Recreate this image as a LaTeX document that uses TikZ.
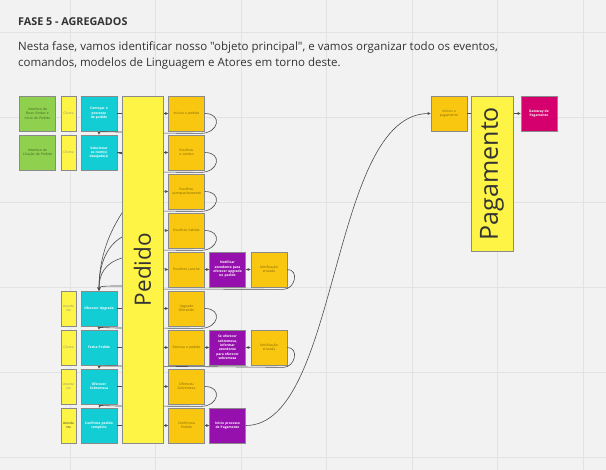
\documentclass[tikz,border=0pt]{standalone}
\usepackage{fontspec}
\setmainfont{Open Sans}[Ligatures=TeXOff]
\usetikzlibrary{arrows.meta,calc}
\definecolor{board}{HTML}{F2F2F2}
\definecolor{gridline}{HTML}{E2E2E2}
\definecolor{evtfill}{HTML}{FAC710}
\definecolor{cmdfill}{HTML}{12CDD4}
\definecolor{polfill}{HTML}{9510AC}
\definecolor{uifill}{HTML}{8FD14F}
\definecolor{actfill}{HTML}{FEF445}
\definecolor{extfill}{HTML}{D5006D}
\definecolor{edge}{HTML}{8A8A8A}
\definecolor{wire}{HTML}{4D4D4D}
\definecolor{ink}{HTML}{333333}
\tikzset{
  sticky/.style={draw=edge, line width=0.7pt, minimum width=36pt, minimum height=35pt, inner sep=0pt, text width=29pt, align=center, font={\fontsize{3.4}{4.3}\selectfont\hyphenpenalty10000}},
  ui/.style={sticky, fill=uifill, text=black!55!uifill, text width=31pt},
  actor/.style={sticky, fill=actfill, minimum width=15pt, text width=14pt, text=black!45, font={\fontsize{3.2}{4.1}\selectfont\hyphenpenalty10000}},
  cmd/.style={sticky, fill=cmdfill, text=white, text width=31pt, font={\fontsize{3.3}{4.3}\selectfont\bfseries\hyphenpenalty10000}},
  evt/.style={sticky, fill=evtfill, text=black!50!evtfill},
  pol/.style={sticky, fill=polfill, text=white, text width=31pt, font={\fontsize{3.3}{4.3}\selectfont\bfseries\hyphenpenalty10000}},
  ext/.style={sticky, fill=extfill, text=white, text width=30pt, font={\fontsize{3.3}{4.3}\selectfont\bfseries\hyphenpenalty10000}},
  agg/.style={draw=edge, line width=0.7pt, fill=actfill, minimum width=41pt, inner sep=0pt, text=ink},
  link/.style={wire, line width=0.6pt, -{Stealth[length=3.2pt,width=3pt]}},
}
\begin{document}
\begin{tikzpicture}[x=1pt,y=-1pt]
\useasboundingbox (0,0) rectangle (606,470);
\fill[board] (0,0) rectangle (606,470);
\foreach \gx in {70,155.5,241,326.5,412,497.5,583}
  \draw[gridline, line width=1pt] (\gx,0) -- (\gx,470);
\foreach \gy in {33,118,203,288,373,458}
  \draw[gridline, line width=1pt] (0,\gy) -- (606,\gy);

\node[anchor=base west, inner sep=0pt, text=ink, font=\fontsize{10.8}{13}\selectfont\bfseries] (title) at (18,25.7) {FASE 5 - AGREGADOS};
\node[anchor=base west, inner sep=0pt, text=ink, font=\fontsize{11.5}{16}\selectfont] (intro1) at (18,50.7) {Nesta fase, vamos identificar nosso "objeto principal", e vamos organizar todo os eventos,};
\node[anchor=base west, inner sep=0pt, text=ink, font=\fontsize{11.5}{16}\selectfont] (intro2) at (18,66.7) {comandos, modelos de Linguagem e Atores em torno deste.};

\node[ui] (ui1) at (37.5,113.5) {Interface de Boas Vindas e Inicio do Pedido};
\node[actor] (a1) at (68.5,113.5) {Cliente};
\node[cmd] (c1) at (99,113.5) {Começar o processo do pedido};
\node[ui] (ui2) at (37.5,152.5) {Interface de Criação do Pedido};
\node[actor] (a2) at (68.5,152.5) {Cliente};
\node[cmd] (c2) at (99,152.5) {Selecionar os item(s) desejado(s)};
\node[actor] (a3) at (68.5,308.5) {Atende\\nte};
\node[cmd] (c3) at (99,308.5) {Oferecer Upgrade};
\node[actor] (a4) at (68.5,347.5) {Cliente};
\node[cmd] (c4) at (99,347.5) {Fecha Pedido};
\node[actor] (a5) at (68.5,386.5) {Atende\\nte};
\node[cmd] (c5) at (99,386.5) {Oferecer Sobremesa};
\node[actor, text=black!80] (a6) at (68.5,425.5) {Atende\\nte};
\node[cmd] (c6) at (99,425.5) {Confirma pedido completo};

\node[evt] (e1) at (186.5,113.5) {Iniciou o pedido};
\node[evt] (e2) at (186.5,152.5) {Escolheu o combo};
\node[evt] (e3) at (186.5,191.5) {Escolheu acompanhamento};
\node[evt] (e4) at (186.5,230.5) {Escolheu bebida};
\node[evt] (e5) at (186.5,269.5) {Escolheu Lanche};
\node[evt] (e6) at (186.5,308.5) {Upgrade Oferecido};
\node[evt] (e7) at (186.5,347.5) {Revisou o pedido};
\node[evt] (e8) at (186.5,386.5) {Ofereceu Sobremesa};
\node[evt] (e9) at (186.5,425.5) {Confirmou Pedido};

\node[pol] (p1) at (227.5,269.5) {Notificar atendente para oferecer upgrade no pedido};
\node[evt] (n1) at (269,269.5) {Notificação enviada};
\node[pol] (p2) at (227.5,347.5) {Se oferecer sobremesa, informar atendente para oferecer sobremesa};
\node[evt] (n2) at (269,347.5) {Notificação enviada};
\node[pol] (p3) at (227.5,425.5) {Início processo de Pagamento};

\node[evt] (pay) at (449,113.5) {Iniciou o pagamento};
\node[ext] (gw) at (539,113.5) {Gateway de Pagamento};

\draw[link] (c1.east) -- (e1.west);
\draw[link] (c2.east) -- (e2.west);
\draw[link] (c2.east) .. controls +(25,0) and +(-25,0) .. (e3.west);
\draw[link] (c2.east) .. controls +(25,0) and +(-25,0) .. (e4.west);
\draw[link] (c2.east) .. controls +(25,0) and +(-25,0) .. (e5.west);
\draw[link] (c3.east) -- (e6.west);
\draw[link] (c4.east) -- (e7.west);
\draw[link] (c5.east) -- (e8.west);
\draw[link] (c6.east) -- (e9.west);
\draw[link] (e5) -- (p1);
\draw[link] (p1) -- (n1);
\draw[link] (e7) -- (p2);
\draw[link] (p2) -- (n2);
\draw[link] (e9) -- (p3);
\draw[link] (p3.east) .. controls +(94,0) and +(-101,0) .. (pay.west);
\draw[link] (pay.east) -- (gw.west);

\draw[link] (e1.east) .. controls +(18,0) and +(18,0) .. ($(e1.south east)+(-4,2)$) -- (142,133) -- (122,132) .. controls (104,132) and (99,131) .. (c2.north);
\draw[link] (e2.east) .. controls +(18,0) and +(18,0) .. ($(e2.south east)+(-4,2)$) -- (142,172) -- (122,213) .. controls (111,230) and (99,255) .. (c3.north);
\draw[link] (e3.east) .. controls +(18,0) and +(18,0) .. ($(e3.south east)+(-4,2)$) -- (142,211) -- (122,237) .. controls (108,245) and (99,262) .. (c3.north);
\draw[link] (e4.east) .. controls +(18,0) and +(18,0) .. ($(e4.south east)+(-4,2)$) -- (142,250) -- (122,258) .. controls (105,263) and (99,274) .. (c3.north);
\draw[link] (n1.east) .. controls +(12,0) and +(12,0) .. ($(n1.south east)+(-4,2)$) -- (142,289) -- (122,286) .. controls (104,286) and (99,286) .. (c3.north);
\draw[link] (e6.east) .. controls +(18,0) and +(18,0) .. ($(e6.south east)+(-4,2)$) -- (122,328) .. controls (104,328) and (99,327) .. (c4.north);
\draw[link] (n2.east) .. controls +(12,0) and +(12,0) .. ($(n2.south east)+(-4,2)$) -- (122,366) .. controls (103,366) and (99,366) .. (c5.north);
\draw[link] (e8.east) .. controls +(18,0) and +(18,0) .. ($(e8.south east)+(-4,2)$) -- (122,406) .. controls (104,406) and (100,405) .. (c6.north);

\node[agg, minimum height=347pt, font=\fontsize{22.5}{23}\selectfont] (pedido) at (142.5,269.5) {\rotatebox{90}{Pedido}};
\node[agg, minimum width=42pt, minimum height=155pt, font=\fontsize{25}{25}\selectfont] (pagamento) at (492,173.5) {\rotatebox{90}{Pagamento}};
\end{tikzpicture}
\end{document}
